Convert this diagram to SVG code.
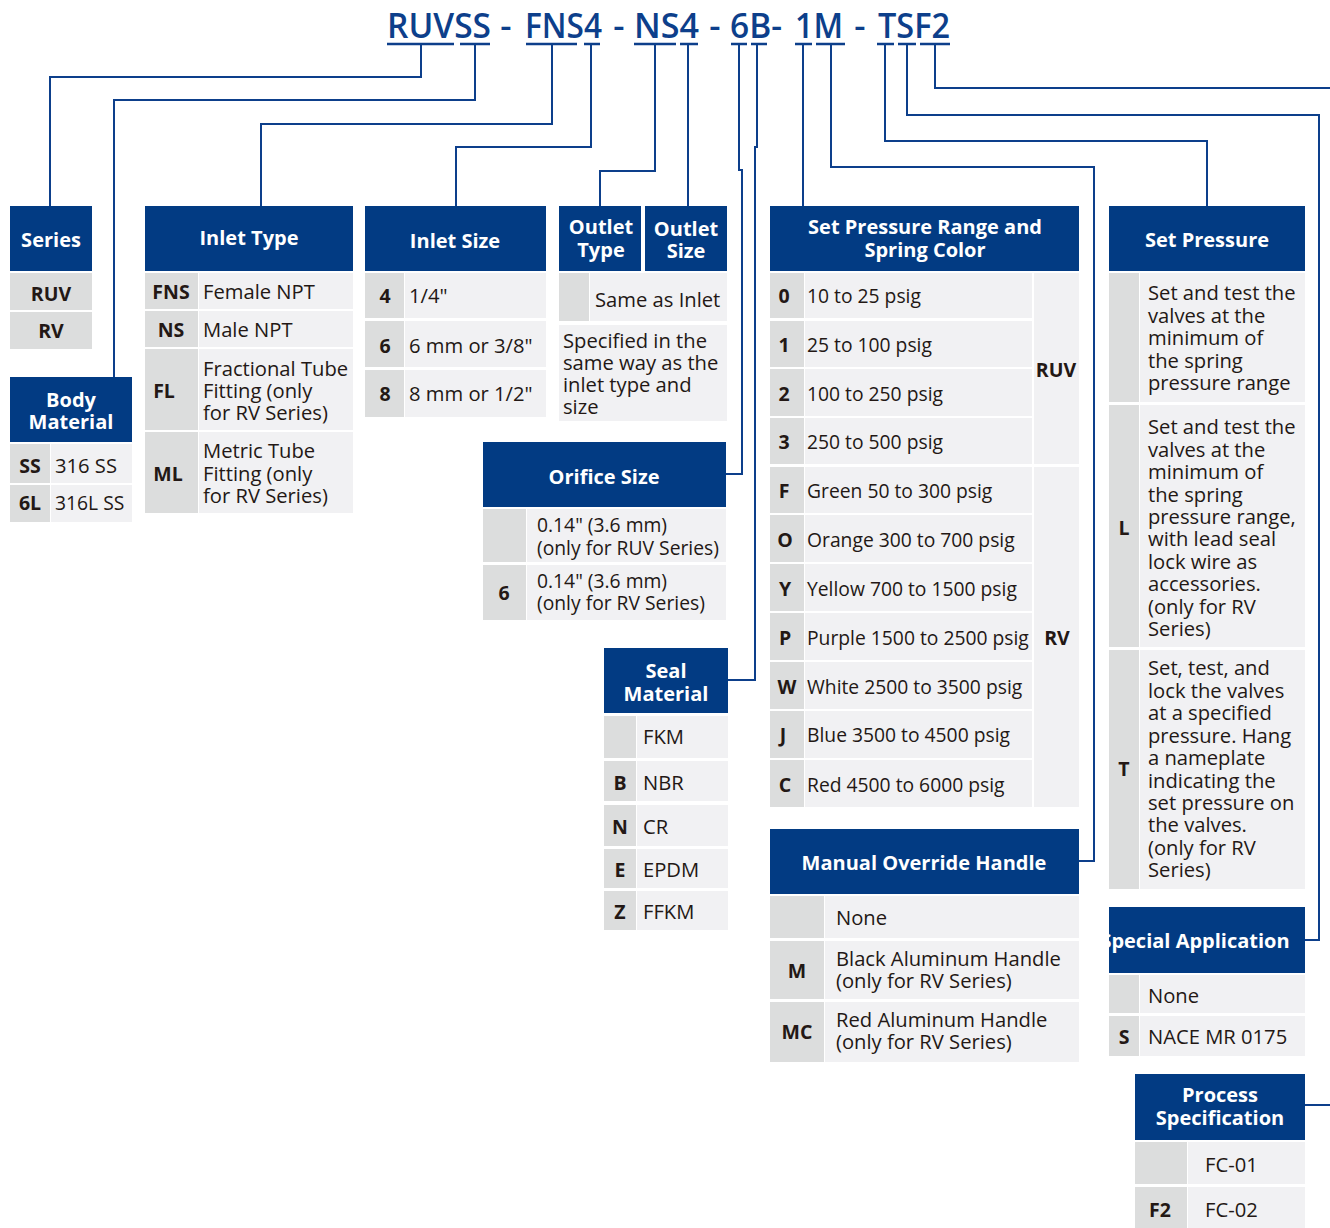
<svg xmlns="http://www.w3.org/2000/svg" width="1330" height="1228" viewBox="0 0 1330 1228">
<style>
.hd{fill:#023b83}
.cd{fill:#dcdddd}
.ds{fill:#f1f1f3}
.ht{font-family:"Open Sans","Noto Sans",sans-serif;font-weight:700;font-size:20px;fill:#ffffff;text-anchor:middle;dominant-baseline:central}
.ct{font-family:"Open Sans","Noto Sans",sans-serif;font-weight:700;font-size:19.5px;fill:#231815;text-anchor:middle;dominant-baseline:central}
.tx{font-family:"Open Sans","Noto Sans",sans-serif;font-size:20.2px;fill:#231815;dominant-baseline:central}
.sm{font-size:19.3px}
.ti{font-family:"Open Sans","Noto Sans",sans-serif;font-weight:600;font-size:35px;fill:#0d3f8b}
.cn{fill:none;stroke:#0d3f8b;stroke-width:2}
.ul{fill:none;stroke:#0d3f8b;stroke-width:2.5}
</style>
<defs>
<clipPath id="spclip"><rect x="1109" y="907" width="196" height="66"/></clipPath>
</defs>
<rect width="1330" height="1228" fill="#ffffff"/>

<g id="title">
<text class="ti" x="387" y="38" textLength="104" lengthAdjust="spacingAndGlyphs">RUVSS</text>
<text class="ti" x="506" y="38" text-anchor="middle">-</text>
<text class="ti" x="525" y="38" textLength="77" lengthAdjust="spacingAndGlyphs">FNS4</text>
<text class="ti" x="619" y="38" text-anchor="middle">-</text>
<text class="ti" x="634" y="38" textLength="65" lengthAdjust="spacingAndGlyphs">NS4</text>
<text class="ti" x="715" y="38" text-anchor="middle">-</text>
<text class="ti" x="730" y="38" textLength="52" lengthAdjust="spacingAndGlyphs">6B-</text>
<text class="ti" x="795" y="38" textLength="48" lengthAdjust="spacingAndGlyphs">1M</text>
<text class="ti" x="860" y="38" text-anchor="middle">-</text>
<text class="ti" x="878" y="38" textLength="72" lengthAdjust="spacingAndGlyphs">TSF2</text>
</g>

<g id="connectors">
<path class="ul" d="M387,44H454M460,44H490M526,44H577M584,44H600M634,44H676M680,44H698M731,44H747M751,44H767M795,44H812M816,44H845M877,44H894M898,44H916M920,44H950"/>
<path class="cn" d="M421,44V77H50V206"/>
<path class="cn" d="M475,44V100H114V377"/>
<path class="cn" d="M552,44V124H261V206"/>
<path class="cn" d="M591,44V147H456V206"/>
<path class="cn" d="M655,44V171H600V206"/>
<path class="cn" d="M688,44V206"/>
<path class="cn" d="M739,44V170H742V474H726"/>
<path class="cn" d="M757,44V147H755V680H728"/>
<path class="cn" d="M803,44V206"/>
<path class="cn" d="M831,44V167H1094V861H1079"/>
<path class="cn" d="M885,44V141H1207V206"/>
<path class="cn" d="M907,44V115H1319V940H1305"/>
<path class="cn" d="M935,44V88H1330"/>
<path class="cn" d="M1305,1105H1330"/>
</g>

<g id="series">
<rect class="hd" x="10" y="206" width="82" height="65"/>
<text class="ht" x="51" y="239">Series</text>
<rect class="cd" x="10" y="273" width="82" height="37"/>
<text class="ct" x="51" y="293">RUV</text>
<rect class="cd" x="10" y="312" width="82" height="37"/>
<text class="ct" x="51" y="330">RV</text>
</g>

<g id="body-material">
<rect class="hd" x="10" y="377" width="122" height="65"/>
<text class="ht" x="71" y="399">Body</text>
<text class="ht" x="71" y="421">Material</text>
<rect class="cd" x="10" y="444" width="40" height="39"/>
<rect class="ds" x="51" y="444" width="81" height="39"/>
<text class="ct" x="30" y="465">SS</text>
<text class="tx" x="55" y="465">316 SS</text>
<rect class="cd" x="10" y="485" width="40" height="37"/>
<rect class="ds" x="51" y="485" width="81" height="37"/>
<text class="ct" x="30" y="502">6L</text>
<text class="tx sm" x="55" y="502">316L SS</text>
</g>

<g id="inlet-type">
<rect class="hd" x="145" y="206" width="208" height="65"/>
<text class="ht" x="249" y="237">Inlet Type</text>
<rect class="cd" x="145" y="273" width="53" height="36"/>
<rect class="ds" x="199" y="273" width="154" height="36"/>
<text class="ct" x="171" y="291">FNS</text>
<text class="tx" x="203" y="291">Female NPT</text>
<rect class="cd" x="145" y="311" width="53" height="36"/>
<rect class="ds" x="199" y="311" width="154" height="36"/>
<text class="ct" x="171" y="329">NS</text>
<text class="tx" x="203" y="329">Male NPT</text>
<rect class="cd" x="145" y="349" width="53" height="81"/>
<rect class="ds" x="199" y="349" width="154" height="81"/>
<text class="ct" x="164" y="390">FL</text>
<text class="tx" x="203" y="368">Fractional Tube</text>
<text class="tx" x="203" y="390">Fitting (only</text>
<text class="tx" x="203" y="412">for RV Series)</text>
<rect class="cd" x="145" y="432" width="53" height="81"/>
<rect class="ds" x="199" y="432" width="154" height="81"/>
<text class="ct" x="168" y="473">ML</text>
<text class="tx" x="203" y="450">Metric Tube</text>
<text class="tx" x="203" y="473">Fitting (only</text>
<text class="tx" x="203" y="495">for RV Series)</text>
</g>

<g id="inlet-size">
<rect class="hd" x="365" y="206" width="181" height="65"/>
<text class="ht" x="455" y="240">Inlet Size</text>
<rect class="cd" x="365" y="273" width="39" height="45"/>
<rect class="ds" x="405" y="273" width="141" height="45"/>
<text class="ct" x="385" y="295">4</text>
<text class="tx" x="409" y="295">1/4"</text>
<rect class="cd" x="365" y="321" width="39" height="46"/>
<rect class="ds" x="405" y="321" width="141" height="46"/>
<text class="ct" x="385" y="345">6</text>
<text class="tx" x="409" y="345">6 mm or 3/8"</text>
<rect class="cd" x="365" y="370" width="39" height="47"/>
<rect class="ds" x="405" y="370" width="141" height="47"/>
<text class="ct" x="385" y="393">8</text>
<text class="tx" x="409" y="393">8 mm or 1/2"</text>
</g>

<g id="outlet-type">
<rect class="hd" x="559" y="206" width="82" height="65"/>
<text class="ht" x="601" y="226">Outlet</text>
<text class="ht" x="601" y="249">Type</text>
</g>

<g id="outlet-size">
<rect class="hd" x="645" y="206" width="82" height="65"/>
<text class="ht" x="686" y="228">Outlet</text>
<text class="ht" x="686" y="250">Size</text>
</g>

<g id="outlet-rows">
<rect class="cd" x="559" y="273" width="30" height="48"/>
<rect class="ds" x="590" y="273" width="137" height="48"/>
<text class="tx" x="595" y="299">Same as Inlet</text>
<rect class="ds" x="559" y="325" width="168" height="96"/>
<text class="tx" x="563" y="340">Specified in the</text>
<text class="tx" x="563" y="362">same way as the</text>
<text class="tx" x="563" y="384">inlet type and</text>
<text class="tx" x="563" y="406">size</text>
</g>

<g id="orifice-size">
<rect class="hd" x="483" y="442" width="243" height="65"/>
<text class="ht" x="604" y="476">Orifice Size</text>
<rect class="cd" x="483" y="509" width="43" height="53"/>
<rect class="ds" x="527" y="509" width="199" height="53"/>
<text class="tx sm" x="537" y="524">0.14" (3.6 mm)</text>
<text class="tx sm" x="537" y="547">(only for RUV Series)</text>
<rect class="cd" x="483" y="565" width="43" height="55"/>
<rect class="ds" x="527" y="565" width="199" height="55"/>
<text class="ct" x="504" y="592">6</text>
<text class="tx sm" x="537" y="580">0.14" (3.6 mm)</text>
<text class="tx sm" x="537" y="602">(only for RV Series)</text>
</g>

<g id="seal-material">
<rect class="hd" x="604" y="648" width="124" height="65"/>
<text class="ht" x="666" y="670">Seal</text>
<text class="ht" x="666" y="693">Material</text>
<rect class="cd" x="604" y="716" width="32" height="42"/>
<rect class="ds" x="637" y="716" width="91" height="42"/>
<text class="tx" x="643" y="736">FKM</text>
<rect class="cd" x="604" y="761" width="32" height="40"/>
<rect class="ds" x="637" y="761" width="91" height="40"/>
<text class="ct" x="620" y="782">B</text>
<text class="tx" x="643" y="782">NBR</text>
<rect class="cd" x="604" y="805" width="32" height="41"/>
<rect class="ds" x="637" y="805" width="91" height="41"/>
<text class="ct" x="620" y="826">N</text>
<text class="tx" x="643" y="826">CR</text>
<rect class="cd" x="604" y="849" width="32" height="39"/>
<rect class="ds" x="637" y="849" width="91" height="39"/>
<text class="ct" x="620" y="869">E</text>
<text class="tx" x="643" y="869">EPDM</text>
<rect class="cd" x="604" y="891" width="32" height="39"/>
<rect class="ds" x="637" y="891" width="91" height="39"/>
<text class="ct" x="620" y="911">Z</text>
<text class="tx" x="643" y="911">FFKM</text>
</g>

<g id="set-pressure-range">
<rect class="hd" x="770" y="206" width="309" height="65"/>
<text class="ht" x="925" y="226">Set Pressure Range and</text>
<text class="ht" x="925" y="249">Spring Color</text>
<rect class="ds" x="1034" y="273" width="45" height="191"/>
<text class="ct" x="1056" y="369">RUV</text>
<rect class="ds" x="1034" y="467" width="45" height="340"/>
<text class="ct" x="1057" y="637">RV</text>
<rect class="cd" x="770" y="273" width="34" height="45"/><rect class="ds" x="805" y="273" width="227" height="45"/>
<text class="ct" x="784" y="295">0</text><text class="tx sm" x="807" y="295">10 to 25 psig</text>
<rect class="cd" x="770" y="321" width="34" height="46"/><rect class="ds" x="805" y="321" width="227" height="46"/>
<text class="ct" x="784" y="344">1</text><text class="tx sm" x="807" y="344">25 to 100 psig</text>
<rect class="cd" x="770" y="369" width="34" height="47"/><rect class="ds" x="805" y="369" width="227" height="47"/>
<text class="ct" x="784" y="393">2</text><text class="tx sm" x="807" y="393">100 to 250 psig</text>
<rect class="cd" x="770" y="418" width="34" height="46"/><rect class="ds" x="805" y="418" width="227" height="46"/>
<text class="ct" x="784" y="441">3</text><text class="tx sm" x="807" y="441">250 to 500 psig</text>
<rect class="cd" x="770" y="467" width="34" height="46"/><rect class="ds" x="805" y="467" width="227" height="46"/>
<text class="ct" x="784" y="490">F</text><text class="tx sm" x="807" y="490">Green 50 to 300 psig</text>
<rect class="cd" x="770" y="515" width="34" height="47"/><rect class="ds" x="805" y="515" width="227" height="47"/>
<text class="ct" x="785" y="539">O</text><text class="tx sm" x="807" y="539">Orange 300 to 700 psig</text>
<rect class="cd" x="770" y="564" width="34" height="47"/><rect class="ds" x="805" y="564" width="227" height="47"/>
<text class="ct" x="785" y="588">Y</text><text class="tx sm" x="807" y="588">Yellow 700 to 1500 psig</text>
<rect class="cd" x="770" y="613" width="34" height="47"/><rect class="ds" x="805" y="613" width="227" height="47"/>
<text class="ct" x="785" y="637">P</text><text class="tx sm" x="807" y="637">Purple 1500 to 2500 psig</text>
<rect class="cd" x="770" y="662" width="34" height="47"/><rect class="ds" x="805" y="662" width="227" height="47"/>
<text class="ct" x="787" y="686">W</text><text class="tx sm" x="807" y="686">White 2500 to 3500 psig</text>
<rect class="cd" x="770" y="711" width="34" height="47"/><rect class="ds" x="805" y="711" width="227" height="47"/>
<text class="ct" x="783" y="734">J</text><text class="tx sm" x="807" y="734">Blue 3500 to 4500 psig</text>
<rect class="cd" x="770" y="760" width="34" height="47"/><rect class="ds" x="805" y="760" width="227" height="47"/>
<text class="ct" x="785" y="784">C</text><text class="tx sm" x="807" y="784">Red 4500 to 6000 psig</text>
</g>

<g id="manual-override">
<rect class="hd" x="770" y="829" width="309" height="65"/>
<text class="ht" x="924" y="862">Manual Override Handle</text>
<rect class="cd" x="770" y="896" width="54" height="42"/>
<rect class="ds" x="825" y="896" width="254" height="42"/>
<text class="tx" x="836" y="917">None</text>
<rect class="cd" x="770" y="941" width="54" height="58"/>
<rect class="ds" x="825" y="941" width="254" height="58"/>
<text class="ct" x="797" y="970">M</text>
<text class="tx" x="836" y="958">Black Aluminum Handle</text>
<text class="tx" x="836" y="980">(only for RV Series)</text>
<rect class="cd" x="770" y="1002" width="54" height="60"/>
<rect class="ds" x="825" y="1002" width="254" height="60"/>
<text class="ct" x="797" y="1031">MC</text>
<text class="tx" x="836" y="1019">Red Aluminum Handle</text>
<text class="tx" x="836" y="1041">(only for RV Series)</text>
</g>

<g id="set-pressure">
<rect class="hd" x="1109" y="206" width="196" height="65"/>
<text class="ht" x="1207" y="239">Set Pressure</text>
<rect class="cd" x="1109" y="273" width="30" height="129"/>
<rect class="ds" x="1140" y="273" width="165" height="129"/>
<text class="tx" x="1148" y="292">Set and test the</text>
<text class="tx" x="1148" y="315">valves at the</text>
<text class="tx" x="1148" y="337">minimum of</text>
<text class="tx" x="1148" y="360">the spring</text>
<text class="tx" x="1148" y="382">pressure range</text>
<rect class="cd" x="1109" y="405" width="30" height="242"/>
<rect class="ds" x="1140" y="405" width="165" height="242"/>
<text class="ct" x="1124" y="527">L</text>
<text class="tx" x="1148" y="426">Set and test the</text>
<text class="tx" x="1148" y="449">valves at the</text>
<text class="tx" x="1148" y="471">minimum of</text>
<text class="tx" x="1148" y="494">the spring</text>
<text class="tx" x="1148" y="516">pressure range,</text>
<text class="tx" x="1148" y="538">with lead seal</text>
<text class="tx" x="1148" y="561">lock wire as</text>
<text class="tx" x="1148" y="583">accessories.</text>
<text class="tx" x="1148" y="606">(only for RV</text>
<text class="tx" x="1148" y="628">Series)</text>
<rect class="cd" x="1109" y="650" width="30" height="239"/>
<rect class="ds" x="1140" y="650" width="165" height="239"/>
<text class="ct" x="1124" y="768">T</text>
<text class="tx" x="1148" y="667">Set, test, and</text>
<text class="tx" x="1148" y="690">lock the valves</text>
<text class="tx" x="1148" y="712">at a specified</text>
<text class="tx" x="1148" y="735">pressure. Hang</text>
<text class="tx" x="1148" y="757">a nameplate</text>
<text class="tx" x="1148" y="780">indicating the</text>
<text class="tx" x="1148" y="802">set pressure on</text>
<text class="tx" x="1148" y="824">the valves.</text>
<text class="tx" x="1148" y="847">(only for RV</text>
<text class="tx" x="1148" y="869">Series)</text>
</g>

<g id="special-application">
<rect class="hd" x="1109" y="907" width="196" height="66"/>
<text class="ht" x="1195" y="940" clip-path="url(#spclip)">Special Application</text>
<rect class="cd" x="1109" y="975" width="30" height="38"/>
<rect class="ds" x="1140" y="975" width="165" height="38"/>
<text class="tx" x="1148" y="995">None</text>
<rect class="cd" x="1109" y="1016" width="30" height="40"/>
<rect class="ds" x="1140" y="1016" width="165" height="40"/>
<text class="ct" x="1124" y="1036">S</text>
<text class="tx" x="1148" y="1036">NACE MR 0175</text>
</g>

<g id="process-specification">
<rect class="hd" x="1135" y="1074" width="170" height="66"/>
<text class="ht" x="1220" y="1094">Process</text>
<text class="ht" x="1220" y="1117">Specification</text>
<rect class="cd" x="1135" y="1142" width="52" height="42"/>
<rect class="ds" x="1188" y="1142" width="117" height="42"/>
<text class="tx" x="1205" y="1164">FC-01</text>
<rect class="cd" x="1135" y="1187" width="52" height="41"/>
<rect class="ds" x="1188" y="1187" width="117" height="41"/>
<text class="ct" x="1160" y="1209">F2</text>
<text class="tx" x="1205" y="1209">FC-02</text>
</g>
</svg>
